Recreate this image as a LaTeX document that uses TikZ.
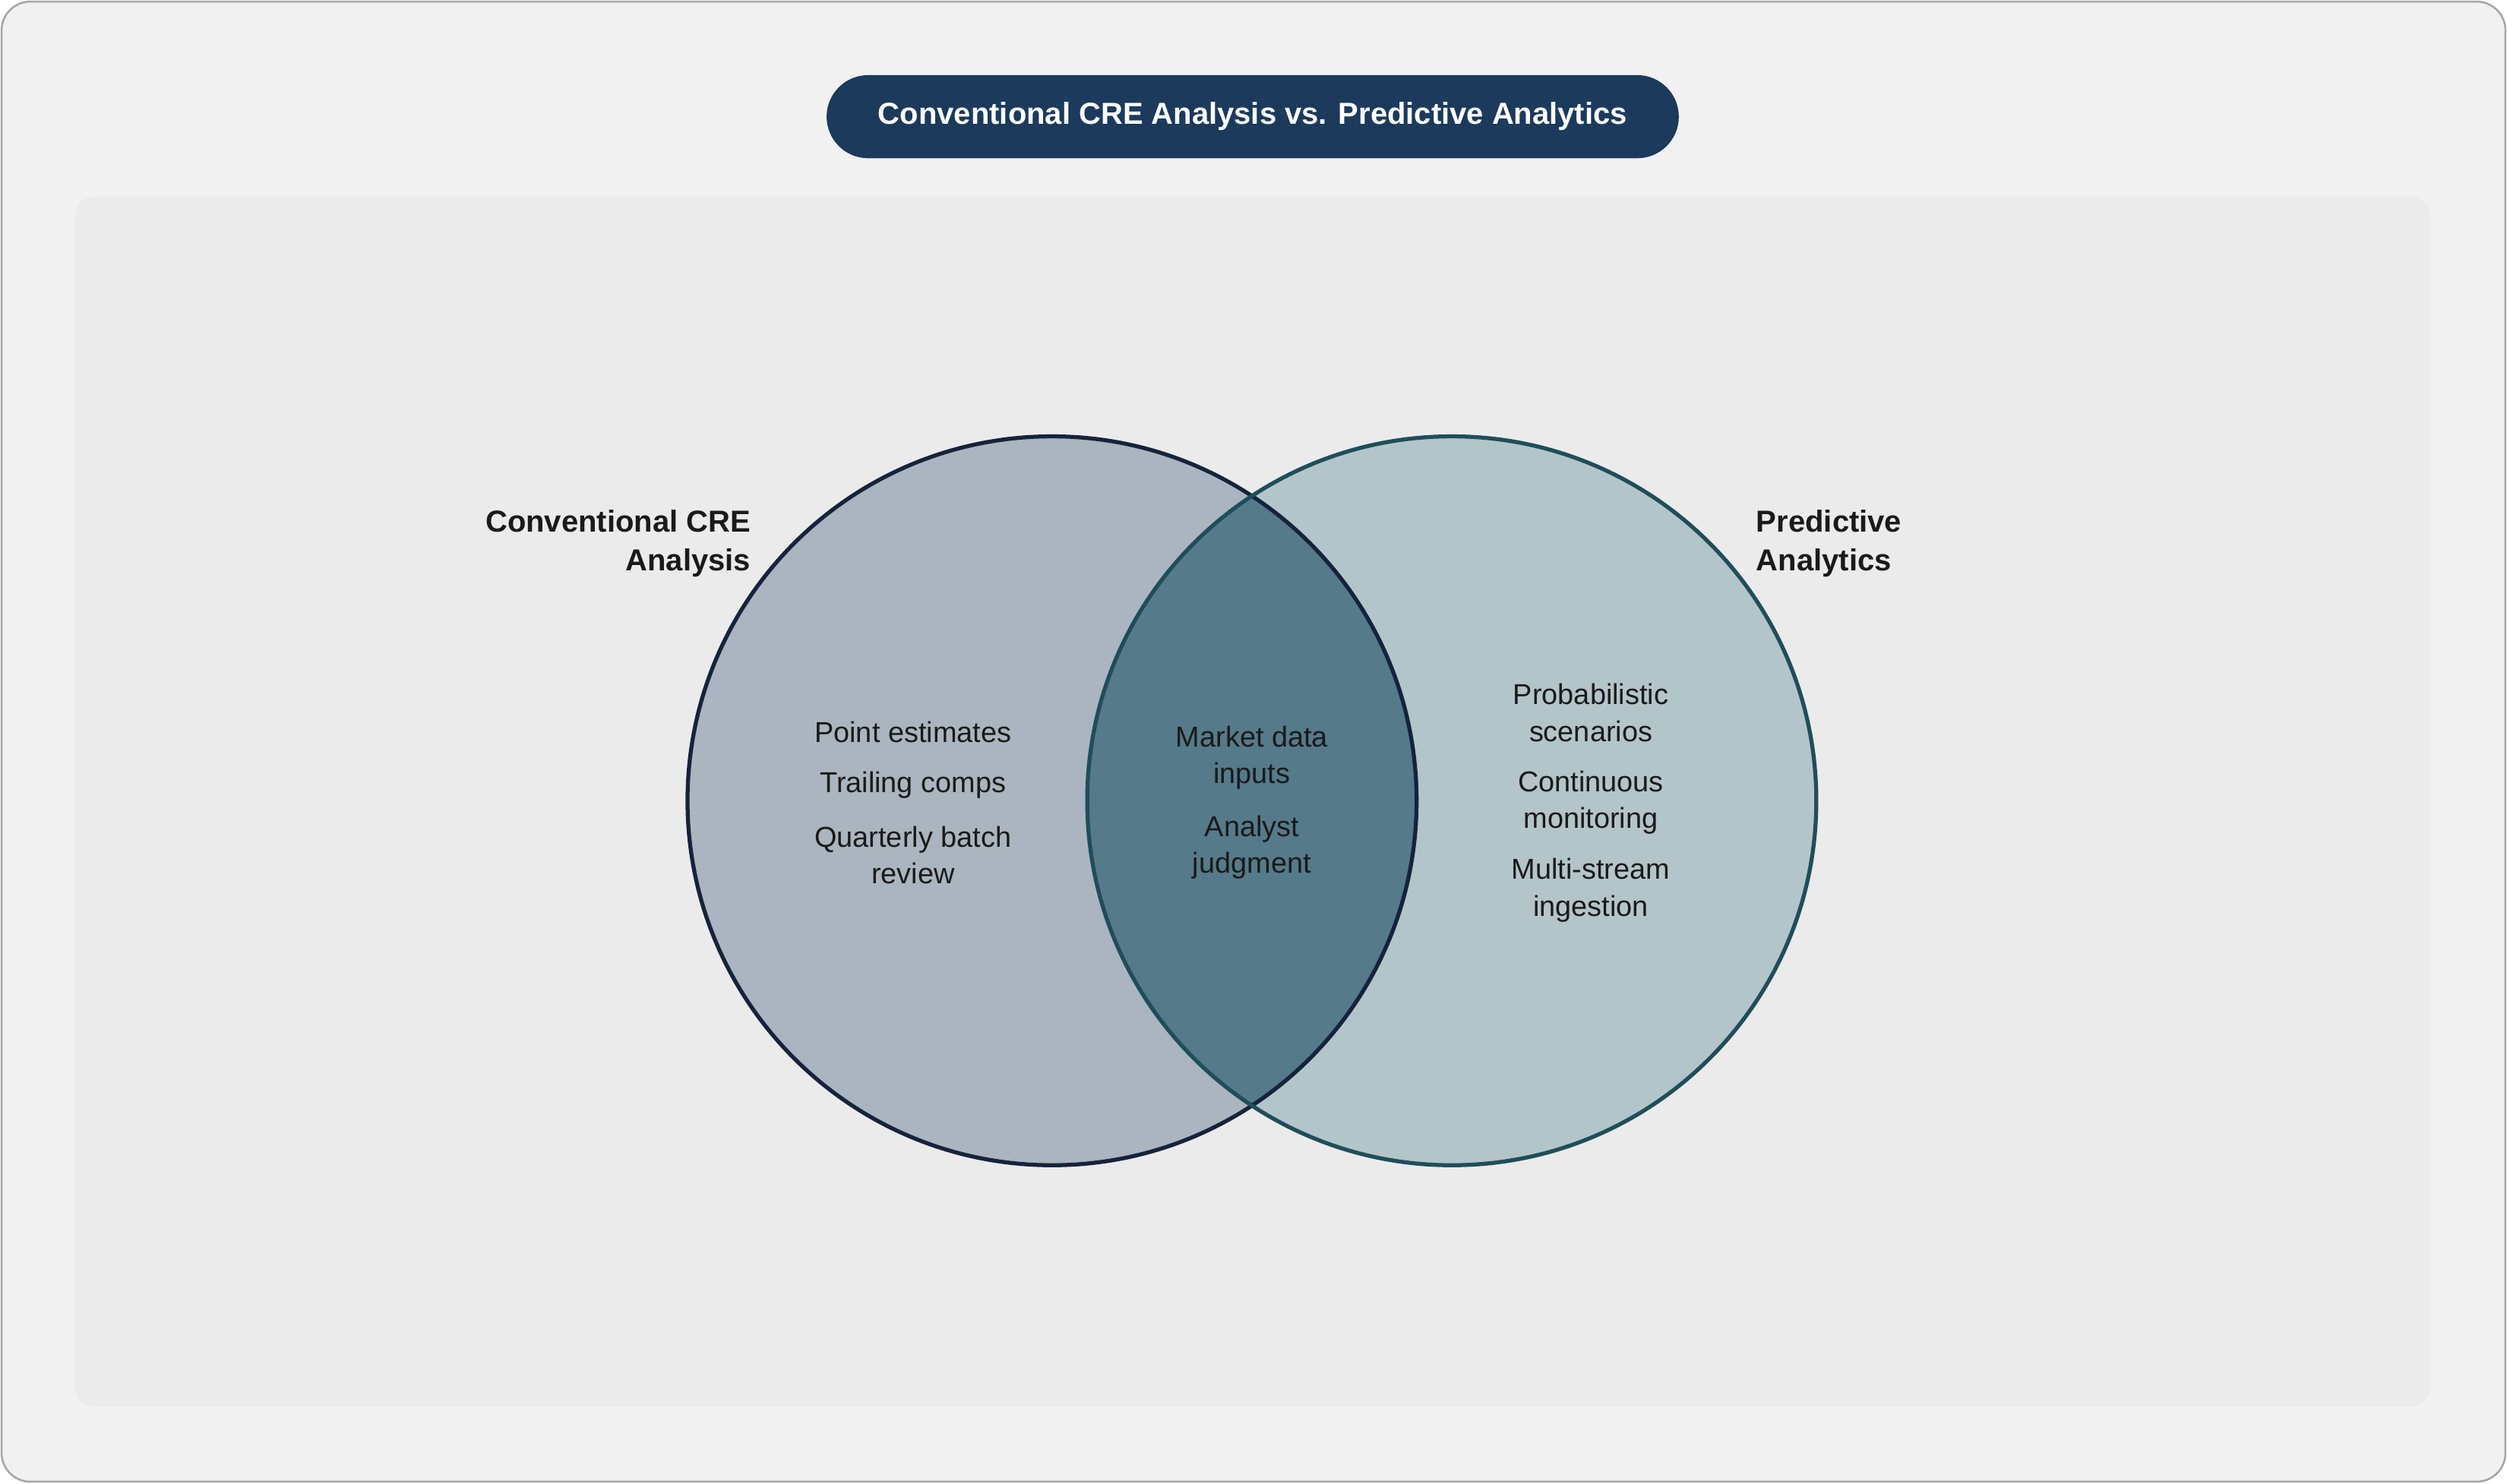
\documentclass[tikz,border=0pt]{standalone}
\usepackage{fontspec}
\setmainfont{Liberation Sans}
\definecolor{bgout}{HTML}{F1F1F1}
\definecolor{panel}{HTML}{EBEBEB}
\definecolor{navy}{HTML}{1B3A5C}
\definecolor{lfill}{HTML}{ABB5BF}
\definecolor{lline}{HTML}{15233D}
\definecolor{rfill}{HTML}{B3C5C9}
\definecolor{rline}{HTML}{1F4E5A}
\definecolor{mid}{HTML}{557A8A}
\definecolor{txt}{HTML}{1A1A1A}
\begin{document}
\begin{tikzpicture}[x=1pt,y=-1pt,
  item/.style={align=center,font=\fontsize{18}{23}\selectfont,text=txt},
  setlab/.style={font=\bfseries\fontsize{19}{24}\selectfont,text=txt}]
\useasboundingbox (0,0) rectangle (1568,928);
\draw[fill=bgout,draw=gray!70,line width=1.2pt,rounded corners=18] (1,1) rectangle (1567,927);
\fill[panel,rounded corners=12] (47,123) rectangle (1520,880);
\node[fill=navy,rounded corners=26,minimum width=533,minimum height=52,text=white,font=\bfseries\fontsize{19}{24}\selectfont] (title) at (783.5,73) {Conventional CRE Analysis vs. Predictive Analytics};
\fill[lfill] (658,501) circle (228);
\fill[rfill] (908,501) circle (228);
\begin{scope}
\clip (658,501) circle (228);
\fill[mid] (908,501) circle (228);
\end{scope}
\draw[lline,line width=2.5pt] (658,501) circle (228);
\draw[rline,line width=2.5pt] (908,501) circle (228);
\node[setlab,align=right,anchor=east] (lA) at (473,340) {Conventional CRE\\Analysis};
\node[setlab,align=left,anchor=west] (rA) at (1095,340) {Predictive\\Analytics};
\node[item] (l1) at (571,458) {Point estimates};
\node[item] (l2) at (571,491) {Trailing comps};
\node[item] (l3) at (571,535) {Quarterly batch\\review};
\node[item] (m1) at (783,474) {Market data\\inputs};
\node[item] (m2) at (783,530) {Analyst\\judgment};
\node[item] (r1) at (995,446) {Probabilistic\\scenarios};
\node[item] (r2) at (995,502) {Continuous\\monitoring};
\node[item] (r3) at (995,557) {Multi-stream\\ingestion};
\end{tikzpicture}
\end{document}
